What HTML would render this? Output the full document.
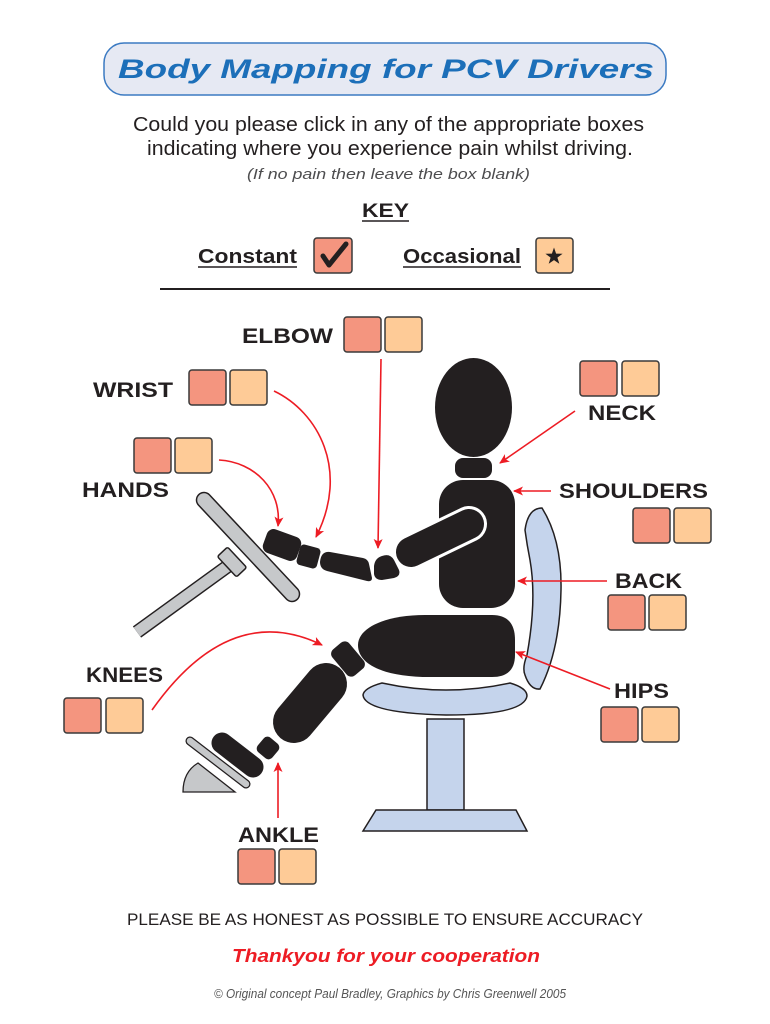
<!DOCTYPE html>
<html><head><meta charset="utf-8"><title>Body Mapping for PCV Drivers</title>
<style>
html,body{margin:0;padding:0;background:#fff;}
svg{display:block;}
text{font-family:"Liberation Sans",sans-serif;}
.lbl{font-weight:bold;font-size:21px;fill:#231f20;}
.bx1{fill:#f4957f;stroke:#3a3a3a;stroke-width:1.5;}
.bx2{fill:#fecb97;stroke:#3a3a3a;stroke-width:1.5;}
.arr{fill:none;stroke:#ed1c24;stroke-width:1.6;marker-end:url(#ah);}
.blk{fill:#231f20;}
.chair{fill:#c5d4ec;stroke:#231f20;stroke-width:1.5;}
</style></head>
<body>
<svg width="770" height="1024" viewBox="0 0 770 1024" xmlns="http://www.w3.org/2000/svg">
<defs>
<marker id="ah" viewBox="0 0 10 10" refX="9" refY="5" markerWidth="10" markerHeight="10" markerUnits="userSpaceOnUse" orient="auto">
<path d="M0,0.5 L10,5 L0,9.5 L2.5,5 Z" fill="#ed1c24"/>
</marker>
</defs>
<rect width="770" height="1024" fill="#fff"/>

<!-- Title -->
<rect x="104" y="43" width="562" height="52" rx="20" fill="#e6e9f3" stroke="#3b7ac2" stroke-width="1.5"/>
<text x="118" y="78" font-size="27" font-weight="bold" font-style="italic" fill="#1c6fb9" textLength="536" lengthAdjust="spacingAndGlyphs">Body Mapping for PCV Drivers</text>

<text x="133" y="131" font-size="20" fill="#231f20" textLength="511" lengthAdjust="spacingAndGlyphs">Could you please click in any of the appropriate boxes</text>
<text x="147" y="155" font-size="20" fill="#231f20" textLength="486" lengthAdjust="spacingAndGlyphs">indicating where you experience pain whilst driving.</text>
<text x="247" y="179" font-size="15" font-style="italic" fill="#4d4d4f" textLength="283" lengthAdjust="spacingAndGlyphs">(If no pain then leave the box blank)</text>

<!-- Key -->
<text x="362" y="217" font-size="19" font-weight="bold" fill="#231f20" textLength="47" lengthAdjust="spacingAndGlyphs">KEY</text>
<line x1="362" y1="221" x2="409" y2="221" stroke="#231f20" stroke-width="1.5"/>
<text x="198" y="263" font-size="20" font-weight="bold" fill="#231f20" textLength="99" lengthAdjust="spacingAndGlyphs">Constant</text>
<line x1="198" y1="267" x2="297" y2="267" stroke="#231f20" stroke-width="1.5"/>
<rect class="bx1" x="314" y="238" width="38" height="35" rx="3"/>
<path d="M323,256 L329,265 L346,244" fill="none" stroke="#231f20" stroke-width="5" stroke-linecap="round" stroke-linejoin="round"/>
<text x="403" y="263" font-size="20" font-weight="bold" fill="#231f20" textLength="118" lengthAdjust="spacingAndGlyphs">Occasional</text>
<line x1="403" y1="267" x2="521" y2="267" stroke="#231f20" stroke-width="1.5"/>
<rect class="bx2" x="536" y="238" width="37" height="35" rx="3"/>
<polygon fill="#231f20" points="554,247.5 556.1,253.6 562.6,253.7 557.4,257.6 559.3,263.8 554,260.1 548.7,263.8 550.6,257.6 545.4,253.7 551.9,253.6"/>
<line x1="160" y1="289" x2="610" y2="289" stroke="#231f20" stroke-width="2"/>

<!-- Chair -->
<path class="chair" d="M525,530 Q528,508 542,508 Q562,540 561,590 Q560,650 540,689 Q530,690 525,675 Q522,668 527,655 Q537,600 530,560 Q527,545 525,530 Z"/>
<path class="chair" d="M382,683 Q446,697 510,683 Q527,688 527,696 Q524,715 446,715 Q365,713 363,695 Q364,688 382,683 Z"/>
<rect class="chair" x="427" y="719" width="37" height="91"/>
<path class="chair" d="M376,810 L516,810 L527,831 L363,831 Z"/>

<!-- Steering wheel -->
<line x1="137" y1="632" x2="228" y2="566" stroke="#231f20" stroke-width="14"/>
<line x1="137" y1="632" x2="228" y2="566" stroke="#c6c8ca" stroke-width="11"/>
<rect x="-14" y="-7" width="28" height="14" rx="2" fill="#c6c8ca" stroke="#231f20" stroke-width="1.5" transform="translate(232,562) rotate(47)"/>
<line x1="204" y1="500" x2="292" y2="594" stroke="#231f20" stroke-width="16.5" stroke-linecap="round"/>
<line x1="204" y1="500" x2="292" y2="594" stroke="#c6c8ca" stroke-width="13.5" stroke-linecap="round"/>

<!-- Pedal -->
<path d="M198,763 L235,792 L183,792 Q183,772 198,763 Z" fill="#c6c8ca" stroke="#231f20" stroke-width="1.3"/>
<line x1="190" y1="741" x2="246" y2="784" stroke="#231f20" stroke-width="9" stroke-linecap="round"/>
<line x1="190" y1="741" x2="246" y2="784" stroke="#c6c8ca" stroke-width="6.5" stroke-linecap="round"/>

<!-- Figure -->
<ellipse class="blk" cx="473.5" cy="407.5" rx="38.5" ry="49.5"/>
<rect class="blk" x="455" y="458" width="37" height="20" rx="8"/>
<rect class="blk" x="439" y="480" width="76" height="128" rx="24"/>
<path class="blk" d="M425,615 L492,615 Q515,615 515,640 L515,655 Q515,677 492,677 L430,677 C385,677 358,665 358,645 C358,628 385,615 425,615 Z"/>
<!-- upper arm -->
<line x1="469" y1="524" x2="411" y2="552" stroke="#fff" stroke-width="36" stroke-linecap="round"/>
<line x1="469" y1="524" x2="411" y2="552" stroke="#231f20" stroke-width="30" stroke-linecap="round"/>
<!-- elbow -->
<path class="blk" d="M382,556 Q390,553 394,560 L399,570 Q401,576 394,578 L382,580 Q375,580 374,574 L374,566 Q375,558 382,556 Z"/>
<!-- forearm -->
<path class="blk" d="M330,552 L363,558 Q368,559 369,564 L372,578 Q372,582 367,581 L327,571 Q320,569 320,562 Q321,551 330,552 Z"/>
<!-- wrist -->
<rect class="blk" x="-10.5" y="-10.5" width="21" height="21" rx="4" transform="translate(308.5,556.5) rotate(15)"/>
<!-- hand -->
<rect class="blk" x="-18" y="-12.5" width="36" height="25" rx="7" transform="translate(282,545) rotate(20)"/>
<!-- knee -->
<rect class="blk" x="-17" y="-11" width="34" height="22" rx="6" transform="translate(348,659) rotate(50)"/>
<!-- shin -->
<line x1="326" y1="684" x2="294" y2="722" stroke="#231f20" stroke-width="42" stroke-linecap="round"/>
<!-- ankle -->
<rect class="blk" x="-9.5" y="-9.5" width="19" height="19" rx="5" transform="translate(268,748) rotate(40)"/>
<!-- foot -->
<line x1="222" y1="743" x2="253" y2="767" stroke="#231f20" stroke-width="21" stroke-linecap="round"/>

<!-- Arrows -->
<path class="arr" d="M381,359 L378,548"/>
<path class="arr" d="M274,391 C318,412 350,470 316,537"/>
<path class="arr" d="M219,460 C255,462 282,490 278,526"/>
<path class="arr" d="M575,411 L500,463"/>
<path class="arr" d="M551,491 L514,491"/>
<path class="arr" d="M607,581 L518,581"/>
<path class="arr" d="M610,689 L516,652"/>
<path class="arr" d="M152,710 Q230,600 322,645"/>
<path class="arr" d="M278,818 L278,763"/>

<!-- Labels and boxes -->
<text class="lbl" x="242" y="343" textLength="91" lengthAdjust="spacingAndGlyphs">ELBOW</text>
<rect class="bx1" x="344" y="317" width="37" height="35" rx="3"/><rect class="bx2" x="385" y="317" width="37" height="35" rx="3"/>

<text class="lbl" x="93" y="397" textLength="80" lengthAdjust="spacingAndGlyphs">WRIST</text>
<rect class="bx1" x="189" y="370" width="37" height="35" rx="3"/><rect class="bx2" x="230" y="370" width="37" height="35" rx="3"/>

<rect class="bx1" x="134" y="438" width="37" height="35" rx="3"/><rect class="bx2" x="175" y="438" width="37" height="35" rx="3"/>
<text class="lbl" x="82" y="497" textLength="87" lengthAdjust="spacingAndGlyphs">HANDS</text>

<rect class="bx1" x="580" y="361" width="37" height="35" rx="3"/><rect class="bx2" x="622" y="361" width="37" height="35" rx="3"/>
<text class="lbl" x="588" y="420" textLength="68" lengthAdjust="spacingAndGlyphs">NECK</text>

<text class="lbl" x="559" y="498" textLength="149" lengthAdjust="spacingAndGlyphs">SHOULDERS</text>
<rect class="bx1" x="633" y="508" width="37" height="35" rx="3"/><rect class="bx2" x="674" y="508" width="37" height="35" rx="3"/>

<text class="lbl" x="615" y="588" textLength="67" lengthAdjust="spacingAndGlyphs">BACK</text>
<rect class="bx1" x="608" y="595" width="37" height="35" rx="3"/><rect class="bx2" x="649" y="595" width="37" height="35" rx="3"/>

<text class="lbl" x="614" y="698" textLength="55" lengthAdjust="spacingAndGlyphs">HIPS</text>
<rect class="bx1" x="601" y="707" width="37" height="35" rx="3"/><rect class="bx2" x="642" y="707" width="37" height="35" rx="3"/>

<text class="lbl" x="86" y="682" textLength="77" lengthAdjust="spacingAndGlyphs">KNEES</text>
<rect class="bx1" x="64" y="698" width="37" height="35" rx="3"/><rect class="bx2" x="106" y="698" width="37" height="35" rx="3"/>

<text class="lbl" x="238" y="842" textLength="81" lengthAdjust="spacingAndGlyphs">ANKLE</text>
<rect class="bx1" x="238" y="849" width="37" height="35" rx="3"/><rect class="bx2" x="279" y="849" width="37" height="35" rx="3"/>

<!-- Footer -->
<text x="127" y="925" font-size="17" fill="#231f20" textLength="516" lengthAdjust="spacingAndGlyphs">PLEASE BE AS HONEST AS POSSIBLE TO ENSURE  ACCURACY</text>
<text x="232" y="962" font-size="18" font-weight="bold" font-style="italic" fill="#ed1c24" textLength="308" lengthAdjust="spacingAndGlyphs">Thankyou for your cooperation</text>
<text x="214" y="998" font-size="13" font-style="italic" fill="#555" textLength="352" lengthAdjust="spacingAndGlyphs">© Original concept Paul Bradley, Graphics by Chris Greenwell 2005</text>
</svg>
</body></html>
